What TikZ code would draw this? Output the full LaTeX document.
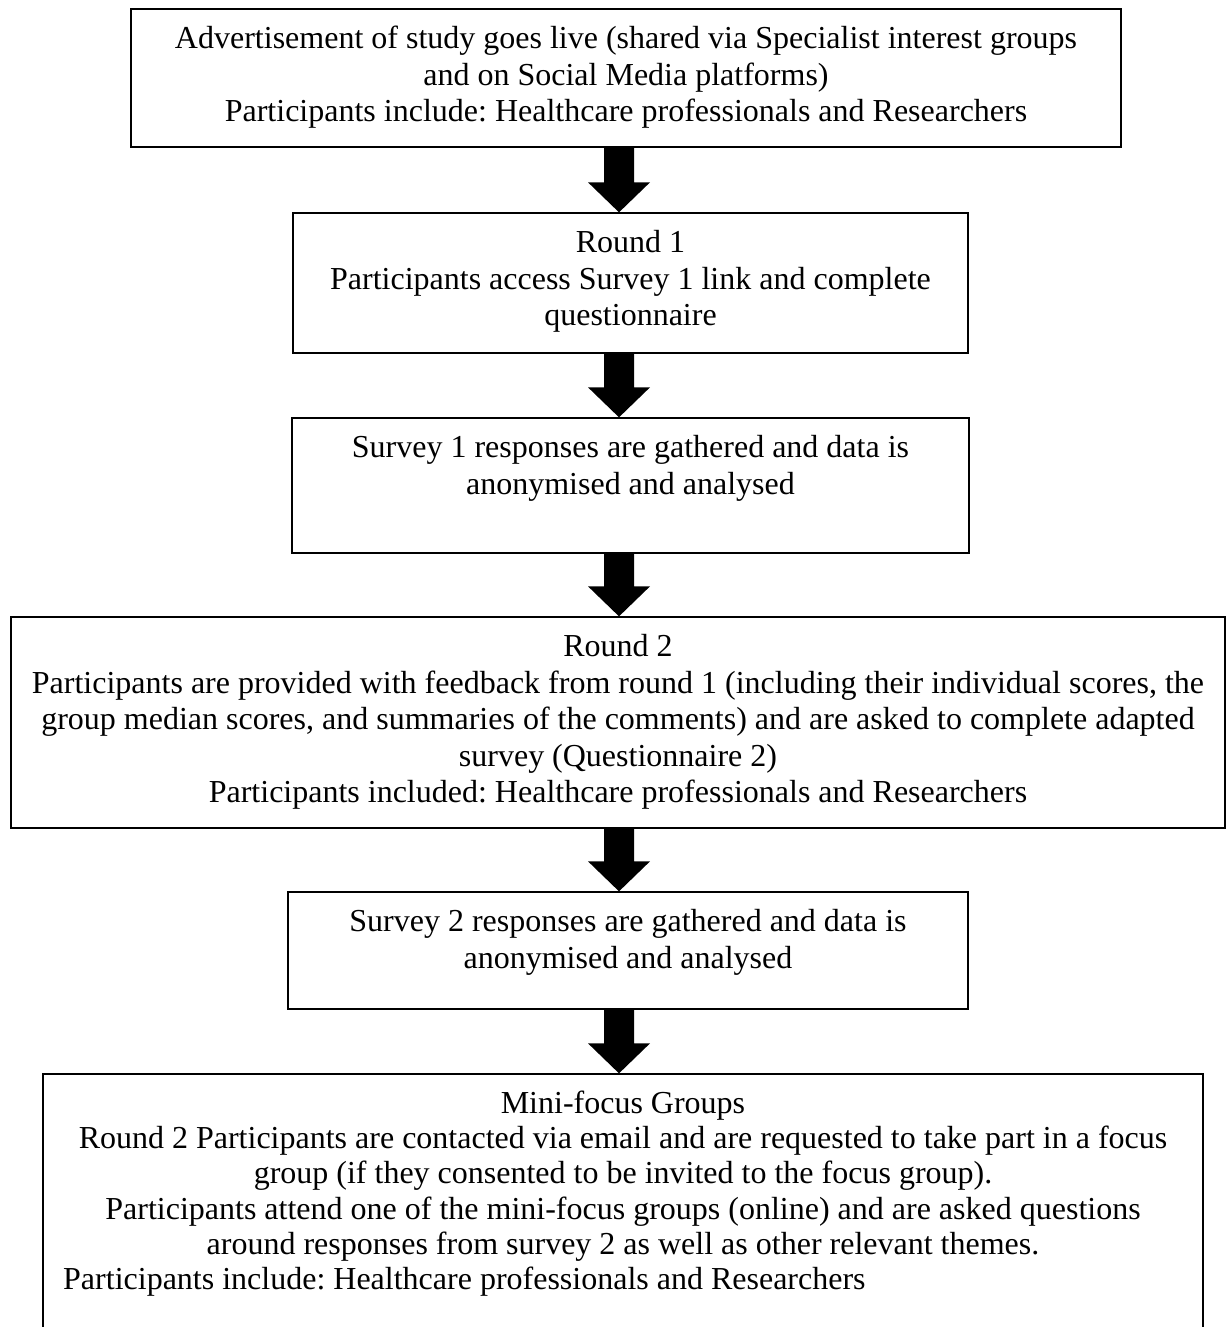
\documentclass[tikz,border=0pt]{standalone}
\usepackage{fontspec}
\setmainfont{Liberation Serif}
\usetikzlibrary{calc}
\frenchspacing
\newcommand{\blockarrow}[2]{%
  \fill[black] ($(ax |- #1.south)+(-15,0)$) -- ($(ax |- #2.north)+(-15,-30)$)
    -- ($(ax |- #2.north)+(-31,-30)$) -- (ax |- #2.north)
    -- ($(ax |- #2.north)+(31,-30)$) -- ($(ax |- #2.north)+(15,-30)$)
    -- ($(ax |- #1.south)+(15,0)$) -- cycle;}
\begin{document}
\begin{tikzpicture}[x=1pt,y=-1pt,
  boxshape/.style={draw=black,line width=1.3pt,inner sep=0pt,rectangle},
  boxtext/.style={anchor=base,inner sep=0pt,align=flush center,text width=1227pt,
    font=\fontsize{32}{36.6}\selectfont\frenchspacing}]
\useasboundingbox (0,0) rectangle (1227,1327);
\coordinate (ax) at (619,0);
% boxes
\node[boxshape,minimum width=990,minimum height=138] (b1) at (626,78) {};
\node[boxshape,minimum width=675,minimum height=140] (b2) at (630.5,283) {};
\node[boxshape,minimum width=677,minimum height=135] (b3) at (630.5,485.5) {};
\node[boxshape,minimum width=1214,minimum height=211] (b4) at (618,722.5) {};
\node[boxshape,minimum width=680,minimum height=117] (b5) at (628,950.5) {};
\node[boxshape,minimum width=1160,minimum height=270] (b6) at (623,1209) {};
% texts
\node[boxtext] (t1) at (626,48.5) {Advertisement of study goes live (shared via Specialist interest groups\\ and on Social Media platforms)\\ Participants include: Healthcare professionals and Researchers};
\node[boxtext] (t2) at (630.5,252.5) {Round 1\\ Participants access Survey 1 link and complete\\ questionnaire};
\node[boxtext] (t3) at (630.5,457.5) {Survey 1 responses are gathered and data is\\ anonymised and analysed};
\node[boxtext] (t4) at (618,656.5) {Round 2\\ Participants are provided with feedback from round 1 (including their individual scores, the\\ group median scores, and summaries of the comments) and are asked to complete adapted\\ survey (Questionnaire 2)\\ Participants included: Healthcare professionals and Researchers};
\node[boxtext] (t5) at (628,931.5) {Survey 2 responses are gathered and data is\\ anonymised and analysed};
\node[boxtext,font=\fontsize{32}{35.2}\selectfont\frenchspacing] (t6) at (623,1113.5) {Mini-focus Groups\\ Round 2 Participants are contacted via email and are requested to take part in a focus\\ group (if they consented to be invited to the focus group).\\ Participants attend one of the mini-focus groups (online) and are asked questions\\ around responses from survey 2 as well as other relevant themes.};
\node[anchor=base west,inner sep=0pt,font=\fontsize{32}{35.2}\selectfont\frenchspacing] (t6b) at (63,1289) {Participants include: Healthcare professionals and Researchers};
% arrows
\blockarrow{b1}{b2}
\blockarrow{b2}{b3}
\blockarrow{b3}{b4}
\blockarrow{b4}{b5}
\blockarrow{b5}{b6}
\end{tikzpicture}
\end{document}
